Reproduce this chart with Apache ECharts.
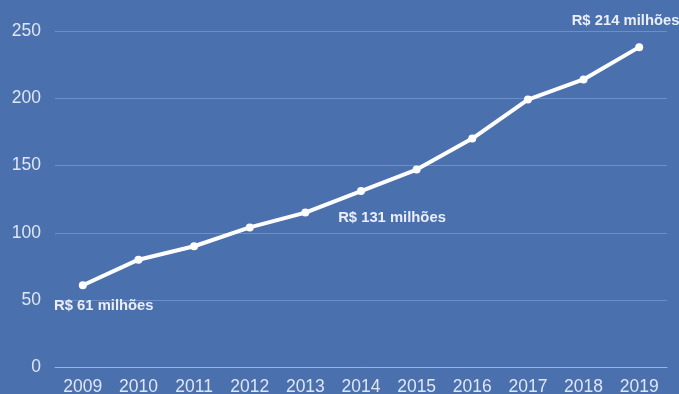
<!DOCTYPE html>
<html>
<head>
<meta charset="utf-8">
<script src="https://cdn.jsdelivr.net/npm/echarts@6/dist/echarts.min.js"></script>
<style>
  html, body { margin: 0; padding: 0; background: #4b70ae; }
  #chart { width: 679px; height: 394px; }
</style>
</head>
<body>
<div id="chart"></div>
<script>
// Yearly values (R$ milhões)
const years = ['2009', '2010', '2011', '2012', '2013', '2014', '2015', '2016', '2017', '2018', '2019'];
const values = [61, 80, 90, 104, 115, 131, 147, 170, 199, 214, 238];
const yTicks = [0, 50, 100, 150, 200, 250];

// Which points carry a text label, and where it sits relative to the point
const labelled = { 0: [21, 21], 5: [31, 27], 9: [42, -59] };

const seriesData = values.map((v, i) => {
  const item = { value: v };
  if (labelled[i]) {
    item.label = {
      show: true,
      position: 'inside',
      align: 'center',
      verticalAlign: 'middle',
      offset: labelled[i],
      formatter: 'R$ {c} milhões',
      color: '#e9eef7',
      fontFamily: 'Liberation Sans, Arial, sans-serif',
      fontWeight: 'bold',
      fontSize: 14.8
    };
  }
  return item;
});

const chart = echarts.init(document.getElementById('chart'), null, { renderer: 'canvas' });
chart.setOption({
  backgroundColor: '#4b70ae',
  animation: false,
  grid: {
    left: 55, right: 12, top: 31, bottom: 26.7,
    containLabel: false,
    outerBoundsMode: 'none'
  },
  xAxis: {
    type: 'category',
    data: years,
    boundaryGap: true,
    axisLine: { show: true, lineStyle: { color: '#9db3db', width: 1 } },
    axisTick: { show: false },
    axisLabel: {
      color: '#dfe6f2',
      fontFamily: 'Liberation Sans, Arial, sans-serif',
      fontSize: 17.5,
      margin: 11
    },
    splitLine: { show: false }
  },
  yAxis: {
    type: 'value',
    min: yTicks[0],
    max: yTicks[yTicks.length - 1],
    interval: 50,
    axisLine: { show: false },
    axisTick: { show: false },
    axisLabel: {
      color: '#dfe6f2',
      fontFamily: 'Liberation Sans, Arial, sans-serif',
      fontSize: 17.5,
      margin: 14
    },
    splitLine: { show: true, lineStyle: { color: '#6d8ec8', width: 1 } }
  },
  series: [{
    type: 'line',
    data: seriesData,
    symbol: 'circle',
    symbolSize: 8,
    lineStyle: { color: '#ffffff', width: 4 },
    itemStyle: { color: '#ffffff' },
    label: { show: false }
  }]
});
</script>
</body>
</html>
